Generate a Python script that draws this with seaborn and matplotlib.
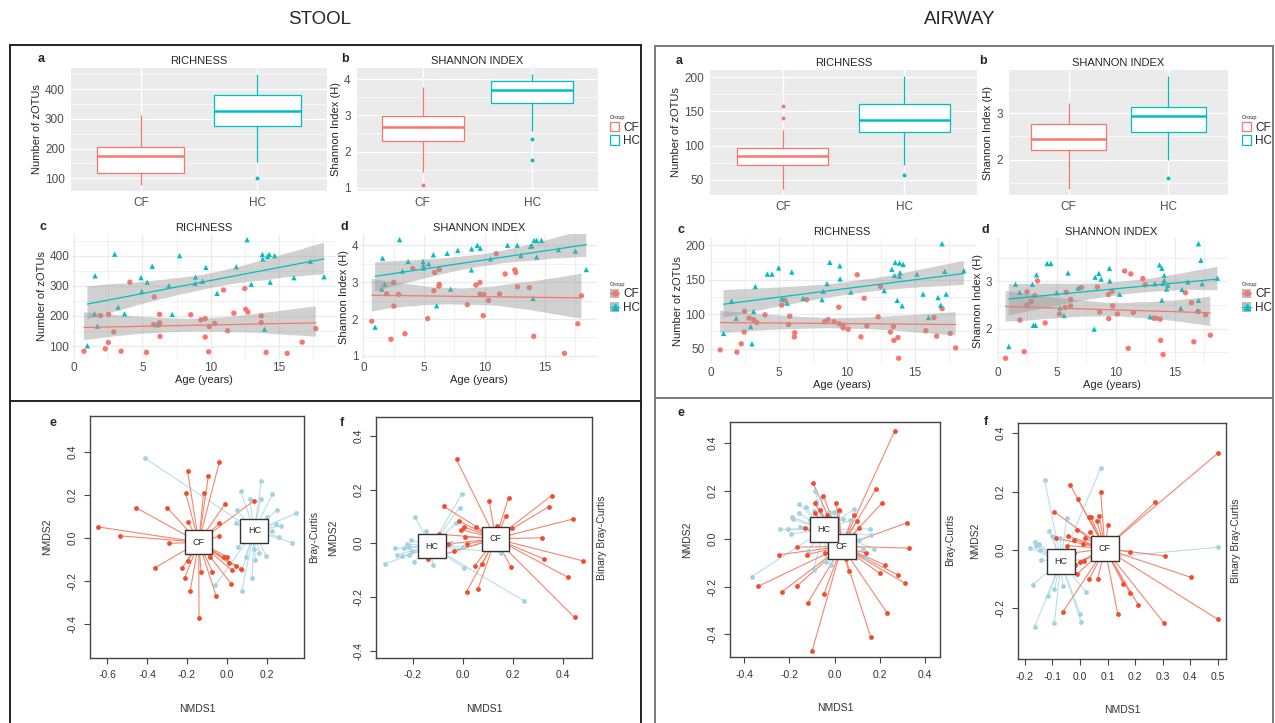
import numpy as np
import pandas as pd
import seaborn as sns
import matplotlib.pyplot as plt
from matplotlib.patches import Patch, Rectangle
from matplotlib.lines import Line2D
from matplotlib.ticker import AutoMinorLocator

W, H = 1275, 723
CF_COL, HC_COL = '#F8766D', '#00BFC4'
CF_PT, CF_LINE = '#F24B2D', '#F4866F'
HC_PT, HC_LINE = '#A3D2E2', '#B8DEEA'

# ---- STOOL: richness / shannon vs age ----
stool_cf_rich_age = [0.72, 1.93, 2.28, 2.5, 2.52, 2.9, 3.44, 4.08, 5.3, 5.87, 5.82, 6.24, 6.26, 6.26, 6.29,
                     8.54, 9.28, 9.6, 9.6, 9.85, 9.9, 10.3, 10.94, 11.24, 11.7, 12.5, 12.57, 12.72, 13.7, 13.7,
                     14.06, 15.6, 16.7, 17.7]
stool_cf_rich = [83, 201, 91, 112, 205, 147, 83, 312, 79, 263, 171, 172, 205, 177, 132,
                 204, 187, 191, 130, 81, 165, 175, 286, 151, 209, 291, 222, 213, 200, 178,
                 79, 76, 113, 158]
stool_hc_rich_age = [0.97, 1.53, 1.49, 1.7, 2.97, 3.22, 3.69, 4.9, 4.95, 5.35, 5.72, 6.09, 6.93, 7.18, 7.72,
                     8.89, 8.86, 9.4, 9.65, 10.47, 11.88, 12.67, 12.97, 13.79, 13.81, 13.94, 14.16, 14.3,
                     14.36, 14.68, 16.1, 17.3, 18.3]
stool_hc_rich = [101, 333, 207, 166, 405, 229, 207, 327, 281, 312, 365, 171, 300, 205, 400,
                 329, 308, 315, 361, 275, 363, 453, 305, 404, 389, 156, 398, 404,
                 312, 400, 327, 381, 330]
stool_cf_shan_age = [0.68, 1.91, 2.27, 2.49, 2.51, 2.9, 3.42, 4.07, 5.3, 5.82, 5.87, 6.26, 6.26, 6.23, 8.58,
                     9.29, 9.62, 9.62, 9.89, 9.95, 10.33, 10.96, 11.24, 11.7, 12.5, 12.57, 12.72, 13.7,
                     14.06, 16.6, 17.7, 18.0]
stool_cf_shan = [1.94, 2.68, 1.45, 2.99, 2.35, 2.67, 1.6, 3.37, 2.01, 2.77, 3.26, 3.34, 2.94, 2.89, 2.39,
                 2.92, 2.99, 2.67, 2.09, 2.66, 2.5, 3.77, 2.68, 3.22, 3.33, 3.26, 2.87, 2.85,
                 1.53, 1.07, 1.87, 2.63]
stool_hc_shan_age = [0.96, 1.5, 1.58, 1.75, 2.98, 3.22, 3.69, 4.92, 4.95, 4.97, 5.38, 5.77, 6.04, 6.91, 7.19,
                     7.79, 8.93, 8.91, 9.4, 9.64, 10.49, 11.9, 12.7, 13.0, 13.8, 13.9, 14.0, 14.1, 14.3,
                     14.3, 14.7, 16.1, 17.5, 18.4]
stool_hc_shan = [1.78, 2.81, 3.65, 2.94, 4.15, 3.3, 3.56, 3.56, 3.46, 3.38, 3.5, 3.74, 2.36, 3.78, 2.81,
                 3.86, 3.9, 3.33, 4.0, 3.92, 3.63, 4.0, 4.0, 3.72, 3.97, 3.99, 2.56, 4.13, 4.13,
                 3.68, 4.13, 3.88, 3.84, 3.34]

# ---- AIRWAY: richness / shannon vs age ----
air_cf_rich_age = [0.66, 1.89, 2.21, 2.43, 2.46, 2.8, 3.12, 3.35, 3.96, 5.19, 5.43, 5.78, 5.7, 6.15, 6.12,
                   7.03, 8.36, 8.6, 9.05, 9.39, 9.42, 9.71, 9.71, 10.08, 10.75, 11.02, 11.26, 11.46, 12.29,
                   12.47, 13.2, 13.42, 13.45, 13.75, 13.8, 15.8, 16.4, 16.6, 17.0, 17.6, 18.0]
air_cf_rich = [48, 45, 57, 74, 104, 94, 92, 88, 99, 113, 120, 97, 85, 73, 67,
               121, 89, 92, 89, 110, 86, 84, 80, 78, 157, 67, 123, 83, 96,
               140, 74, 82, 62, 66, 36, 76, 95, 68, 108, 72, 51]
air_hc_rich_age = [0.91, 1.5, 1.84, 2.9, 3.0, 3.12, 3.25, 4.13, 4.47, 4.97, 5.21, 5.6, 5.93, 6.76, 8.16,
                   8.24, 8.53, 8.73, 9.47, 9.49, 10.28, 12.74, 13.3, 13.55, 13.5, 13.7, 13.87, 13.9, 13.87,
                   14.06, 14.14, 15.15, 15.6, 16.0, 16.7, 16.9, 17.0, 17.2, 17.3, 18.6]
air_hc_rich = [72, 119, 94, 82, 57, 104, 140, 158, 158, 167, 122, 116, 161, 123, 121,
               133, 144, 175, 170, 151, 132, 134, 165, 175, 156, 120, 174, 160, 155,
               112, 172, 158, 129, 95, 124, 113, 202, 162, 129, 163]
air_cf_shan_age = [0.67, 1.89, 2.24, 2.48, 2.48, 2.83, 3.15, 3.37, 4.02, 5.23, 5.71, 5.8, 6.17, 6.17, 7.09,
                   8.44, 8.63, 9.38, 9.4, 9.68, 9.73, 10.13, 10.75, 11.05, 11.27, 11.48, 12.29, 12.48,
                   13.2, 13.42, 13.75, 13.8, 14.0, 15.9, 16.4, 16.6, 17.0, 17.6, 18.0]
air_cf_shan = [1.37, 2.18, 1.51, 2.78, 2.5, 2.57, 2.7, 3.01, 2.12, 2.31, 2.45, 2.77, 2.62, 2.48, 2.87,
               2.88, 2.35, 2.72, 2.21, 2.79, 2.48, 2.31, 3.22, 1.58, 3.16, 2.34, 3.06, 2.93,
               2.22, 2.22, 2.2, 1.75, 1.45, 2.76, 2.55, 1.72, 2.36, 2.29, 1.86]
air_hc_shan_age = [0.94, 1.51, 1.86, 2.94, 3.02, 3.2, 3.29, 4.18, 4.5, 4.99, 5.28, 5.61, 5.96, 6.79, 8.17,
                   8.25, 8.57, 8.76, 9.46, 9.49, 10.32, 12.9, 13.3, 13.7, 13.9, 13.9, 14.0, 14.1, 14.1,
                   14.3, 14.4, 15.5, 15.6, 16.1, 16.9, 17.0, 17.0, 17.2, 17.3, 18.6]
air_hc_shan = [1.62, 2.94, 2.77, 2.94, 2.07, 2.07, 3.14, 3.38, 3.38, 2.76, 2.44, 2.28, 3.18, 2.86, 1.99,
               3.09, 3.17, 3.05, 3.28, 3.01, 2.73, 2.25, 2.95, 3.35, 3.28, 2.6, 2.96, 3.13, 3.02,
               2.84, 2.92, 2.43, 2.83, 2.99, 2.38, 3.8, 2.6, 3.45, 2.95, 3.07]

# ---- NMDS scores ----
stool_bc_cf_x = [-0.645, -0.533, -0.457, -0.30, -0.29, -0.358, -0.197, -0.207, -0.195, -0.223, -0.211, -0.184,
                 -0.195, -0.14, -0.117, -0.093, -0.038, -0.011, -0.038, -0.038, -0.087, -0.13, -0.073, -0.054,
                 0.021, -0.016, 0.0, 0.011, 0.025, 0.044, 0.072, 0.135]
stool_bc_cf_y = [0.05, 0.008, 0.14, 0.14, -0.027, -0.139, 0.31, 0.209, 0.075, -0.139, -0.187, -0.248,
                 -0.108, -0.372, 0.206, 0.287, 0.353, 0.155, 0.066, 0.007, -0.092, -0.158, -0.158, -0.273,
                 -0.214, -0.092, -0.089, -0.12, -0.152, -0.131, -0.148, 0.172]
stool_bc_hc_x = [-0.41, 0.068, 0.172, 0.227, 0.168, 0.113, 0.048, 0.248, 0.347, 0.246, 0.27, 0.227, 0.258,
                 0.327, 0.2, 0.044, 0.054, 0.093, 0.135, 0.141, 0.125, 0.076, 0.196, 0.162, -0.058, 0.074]
stool_bc_hc_y = [0.369, 0.218, 0.265, 0.203, 0.18, 0.181, 0.128, 0.128, 0.113, 0.063, 0.054, 0.03, 0.004,
                 -0.024, 0.097, 0.066, -0.043, -0.089, -0.055, -0.105, -0.187, -0.152, -0.086, -0.071,
                 -0.221, -0.248]
stool_bbc_cf_x = [-0.026, -0.078, -0.016, 0.004, 0.05, 0.105, 0.182, 0.172, 0.354, 0.343, 0.439, 0.314,
                  0.323, 0.478, 0.421, 0.446, 0.193, 0.046, 0.077, 0.014, 0.059, -0.035, -0.061, 0.014,
                  0.009, -0.007, -0.141, -0.097, 0.136, 0.196]
stool_bbc_cf_y = [0.312, 0.138, 0.082, 0.061, 0.061, 0.158, 0.169, 0.102, 0.177, 0.136, 0.09, 0.02,
                  -0.058, -0.065, -0.127, -0.276, -0.09, -0.085, -0.078, -0.18, -0.172, -0.029, -0.003,
                  -0.003, 0.024, 0.051, -0.06, 0.034, 0.066, 0.056]
stool_bbc_hc_x = [-0.004, -0.014, -0.027, -0.193, -0.149, -0.314, -0.272, -0.264, -0.244, -0.223, -0.218,
                  -0.203, -0.197, -0.215, -0.122, -0.048, 0.001, 0.002, 0.152, 0.245, -0.207, -0.236]
stool_bbc_hc_y = [0.185, 0.133, 0.076, 0.098, 0.045, -0.078, -0.019, -0.042, -0.048, -0.003, -0.013,
                  -0.028, -0.069, -0.044, -0.081, 0.002, -0.013, -0.091, -0.035, -0.215, 0.012, -0.016]

air_bc_cf_x = [0.265, -0.096, -0.049, 0.184, 0.21, 0.32, 0.328, -0.088, -0.066, -0.087, -0.034, 0.007,
               0.018, 0.084, 0.099, 0.11, -0.132, -0.166, -0.246, -0.121, -0.337, -0.231, -0.165, -0.119,
               -0.047, -0.099, 0.16, 0.232, 0.313, 0.279, 0.221, 0.199, 0.062, 0.051, -0.04, 0.14]
air_bc_cf_y = [0.45, 0.235, 0.18, 0.21, 0.15, 0.067, -0.039, 0.148, 0.122, 0.108, 0.098, 0.148,
               0.122, 0.1, 0.076, 0.046, 0.046, -0.035, -0.067, -0.066, -0.199, -0.221, -0.197, -0.269,
               -0.232, -0.469, -0.413, -0.31, -0.187, -0.151, -0.109, -0.145, -0.133, -0.084, -0.059, -0.06]
air_bc_hc_x = [-0.365, -0.243, -0.206, -0.191, -0.154, -0.187, -0.184, -0.157, -0.159, -0.128, -0.107,
               -0.093, -0.085, -0.081, -0.071, -0.059, -0.026, -0.004, 0.022, 0.037, 0.087, 0.069, 0.11,
               0.157, 0.162, 0.125, 0.176, -0.093, -0.037, -0.016, 0.007, 0.096, 0.14, -0.118]
air_bc_hc_y = [-0.158, 0.039, 0.042, 0.021, 0.049, 0.091, 0.081, 0.147, 0.108, 0.133, 0.077,
               0.116, 0.201, 0.154, 0.084, 0.172, 0.113, 0.113, 0.116, 0.083, 0.124, 0.077, -0.007,
               0.041, 0.014, -0.042, -0.043, -0.13, -0.098, -0.108, -0.077, -0.081, -0.08, -0.052]
air_bbc_cf_x = [0.5, 0.273, 0.075, -0.035, -0.008, -0.093, 0.031, 0.039, 0.061, 0.07, 0.102, -0.01, 0.037,
                -0.045, -0.087, 0.02, -0.02, 0.182, 0.31, 0.402, 0.5, 0.305, 0.212, 0.182, 0.157, 0.137,
                0.064, 0.034, -0.01, -0.017, -0.001, 0.013, -0.063, -0.047, -0.02, 0.01]
air_bbc_cf_y = [0.331, 0.163, 0.198, 0.222, 0.176, 0.13, 0.114, 0.114, 0.1, 0.117, 0.086, 0.069, 0.061,
                0.048, 0.04, 0.04, 0.034, -0.006, -0.021, -0.094, -0.238, -0.251, -0.189, -0.149, -0.116,
                -0.219, -0.1, -0.1, -0.082, -0.051, -0.04, -0.037, -0.214, 0.015, -0.01, 0.02]
air_bbc_hc_x = [0.075, -0.128, 0.5, -0.048, -0.111, -0.18, -0.163, -0.158, -0.149, -0.146, -0.143, -0.172,
                -0.116, -0.093, -0.09, -0.063, -0.165, -0.093, 0.0, 0.004, 0.023, -0.101, -0.071]
air_bbc_hc_y = [0.28, 0.239, 0.009, 0.111, 0.066, 0.006, 0.028, 0.014, 0.02, 0.0, -0.034, -0.119,
                -0.158, -0.134, -0.08, -0.123, -0.265, -0.251, -0.219, -0.247, -0.146, 0.046, 0.04]

sns.set_style('white')
plt.rcParams['font.family'] = ['Liberation Sans', 'DejaVu Sans']
plt.rcParams['axes.unicode_minus'] = False

fig = plt.figure(figsize=(W / 100, H / 100), dpi=100)


def rect(x0, y0, x1, y1):
    return [x0 / W, 1 - y1 / H, (x1 - x0) / W, (y1 - y0) / H]


def expand(vals, frac=0.05):
    lo, hi = min(vals), max(vals)
    pad = (hi - lo) * frac
    return lo - pad, hi + pad


def gg_theme(ax, grey):
    ax.set_facecolor('#EBEBEB' if grey else 'white')
    gc = 'white' if grey else '#EBEBEB'
    ax.grid(True, which='major', color=gc, lw=1.0)
    ax.grid(True, which='minor', color=gc, lw=0.5)
    ax.set_axisbelow(True)
    for s in ax.spines.values():
        s.set_visible(False)
    ax.tick_params(which='major', length=2.5 if grey else 0, color='#333333', labelcolor='#4D4D4D',
                   labelsize=8.5, pad=2)
    ax.tick_params(which='minor', length=0)


def box_panel(ax, cf, hc, ylabel, yticks, title):
    df = pd.DataFrame({'Group': ['CF'] * len(cf) + ['HC'] * len(hc), 'value': cf + hc})
    for grp, col in [('CF', CF_COL), ('HC', HC_COL)]:
        sns.boxplot(data=df[df['Group'] == grp], x='Group', y='value', order=['CF', 'HC'],
                    color='white', linecolor=col, linewidth=0.9, width=0.75, showcaps=False,
                    flierprops=dict(marker='o', markersize=1.8, markerfacecolor=col, markeredgecolor=col),
                    medianprops=dict(linewidth=1.8, color=col), ax=ax)
    gg_theme(ax, True)
    ax.set_xlim(-0.6, 1.6)
    ax.set_ylim(*expand(cf + hc))
    ax.set_yticks(yticks)
    ax.yaxis.set_minor_locator(AutoMinorLocator(2))
    ax.set_xlabel('')
    ax.set_ylabel(ylabel, fontsize=8, labelpad=2)
    ax.set_title(title, fontsize=8, pad=3)


def trend_panel(ax, cf_age, cf_val, hc_age, hc_val, ylabel, yticks, title):
    df = pd.DataFrame({'Age': cf_age + hc_age, 'value': cf_val + hc_val,
                       'Group': ['CF'] * len(cf_age) + ['HC'] * len(hc_age)})
    sns.scatterplot(data=df, x='Age', y='value', hue='Group', style='Group',
                    markers={'CF': 'o', 'HC': '^'}, palette={'CF': CF_COL, 'HC': HC_COL},
                    s=15, linewidth=0, legend=False, ax=ax)
    for grp, col in [('CF', CF_COL), ('HC', HC_COL)]:
        n = len(ax.collections)
        sns.regplot(data=df[df['Group'] == grp], x='Age', y='value', scatter=False, color=col,
                    ci=95, seed=3, line_kws=dict(lw=0.9), ax=ax)
        for coll in ax.collections[n:]:
            coll.set_facecolor('#999999')
            coll.set_edgecolor('none')
            coll.set_alpha(0.45)
    gg_theme(ax, False)
    ax.set_xlim(*expand(cf_age + hc_age))
    ax.set_ylim(*expand(cf_val + hc_val))
    ax.set_xticks([0, 5, 10, 15])
    ax.set_yticks(yticks)
    ax.xaxis.set_minor_locator(AutoMinorLocator(2))
    ax.yaxis.set_minor_locator(AutoMinorLocator(2))
    ax.set_xlabel('Age (years)', fontsize=8, labelpad=1)
    ax.set_ylabel(ylabel, fontsize=8, labelpad=2)
    ax.set_title(title, fontsize=8, pad=2)


def spider_panel(ax, cf_x, cf_y, hc_x, hc_y, xlim, ylim, xticks, yticks, side):
    groups = [('HC', hc_x, hc_y, HC_LINE, HC_PT), ('CF', cf_x, cf_y, CF_LINE, CF_PT)]
    cents = {}
    for grp, xs, ys, lc, pc in groups:
        cx, cy = np.mean(xs), np.mean(ys)
        cents[grp] = (cx, cy)
        for x, y in zip(xs, ys):
            ax.plot([cx, x], [cy, y], color=lc, lw=0.8, zorder=1)
    for grp, xs, ys, lc, pc in groups:
        sns.scatterplot(x=xs, y=ys, color=pc, s=12, linewidth=0, ax=ax, zorder=3)
    for grp in ['CF', 'HC']:
        ax.text(cents[grp][0], cents[grp][1], grp, ha='center', va='center', fontsize=6.5, zorder=5,
                bbox=dict(boxstyle='square,pad=0.85', fc='white', ec='#333333', lw=1.0))
    ax.set_facecolor('white')
    ax.set_xlim(*xlim)
    ax.set_ylim(*ylim)
    ax.set_xticks(xticks)
    ax.set_yticks(yticks)
    ax.set_xticklabels(['%.1f' % v for v in xticks])
    ax.set_yticklabels(['%.1f' % v for v in yticks], rotation=90, va='center')
    for s in ax.spines.values():
        s.set_visible(True)
        s.set_color('#444444')
        s.set_linewidth(1.0)
    ax.tick_params(direction='out', length=4, width=0.8, color='#444444', labelcolor='#333333',
                   labelsize=7.5, pad=5, bottom=True, left=True)
    ax.grid(False)
    ax.set_xlabel('NMDS1', fontsize=7.5, labelpad=17, color='#333333')
    ax.set_ylabel('NMDS2', fontsize=7.5, labelpad=11, color='#333333')
    ax.text(1.025, 0.5, side, transform=ax.transAxes, rotation=90, ha='left', va='center',
            fontsize=7.5, color='#333333')


# ---- STOOL ----
ax = fig.add_axes(rect(71, 68, 327, 191))
box_panel(ax, stool_cf_rich, stool_hc_rich, 'Number of zOTUs', [100, 200, 300, 400], 'RICHNESS')
ax = fig.add_axes(rect(357, 68, 598, 191))
box_panel(ax, stool_cf_shan, stool_hc_shan, 'Shannon Index (H)', [1, 2, 3, 4], 'SHANNON INDEX')
ax = fig.add_axes(rect(72, 234, 336, 359))
trend_panel(ax, stool_cf_rich_age, stool_cf_rich, stool_hc_rich_age, stool_hc_rich,
            'Number of zOTUs', [100, 200, 300, 400], 'RICHNESS')
ax = fig.add_axes(rect(361, 234, 597, 359))
trend_panel(ax, stool_cf_shan_age, stool_cf_shan, stool_hc_shan_age, stool_hc_shan,
            'Shannon Index (H)', [1, 2, 3, 4], 'SHANNON INDEX')
ax = fig.add_axes(rect(90, 416, 304, 658))
spider_panel(ax, stool_bc_cf_x, stool_bc_cf_y, stool_bc_hc_x, stool_bc_hc_y, (-0.685, 0.385), (-0.56, 0.566),
             [-0.6, -0.4, -0.2, 0.0, 0.2], [-0.4, -0.2, 0.0, 0.2, 0.4], 'Bray-Curtis')
ax = fig.add_axes(rect(376, 417, 592, 658))
spider_panel(ax, stool_bbc_cf_x, stool_bbc_cf_y, stool_bbc_hc_x, stool_bbc_hc_y, (-0.348, 0.516), (-0.427, 0.47),
             [-0.2, 0.0, 0.2, 0.4], [-0.4, -0.2, 0.0, 0.2, 0.4], 'Binary Bray-Curtis')

# ---- AIRWAY ----
ax = fig.add_axes(rect(710, 70, 977, 195))
box_panel(ax, air_cf_rich, air_hc_rich, 'Number of zOTUs', [50, 100, 150, 200], 'RICHNESS')
ax = fig.add_axes(rect(1009, 70, 1228, 195))
box_panel(ax, air_cf_shan, air_hc_shan, 'Shannon Index (H)', [2, 3], 'SHANNON INDEX')
ax = fig.add_axes(rect(708, 238, 976, 364))
trend_panel(ax, air_cf_rich_age, air_cf_rich, air_hc_rich_age, air_hc_rich,
            'Number of zOTUs', [50, 100, 150, 200], 'RICHNESS')
ax = fig.add_axes(rect(995, 238, 1228, 364))
trend_panel(ax, air_cf_shan_age, air_cf_shan, air_hc_shan_age, air_hc_shan,
            'Shannon Index (H)', [2, 3], 'SHANNON INDEX')
ax = fig.add_axes(rect(730, 422, 940, 657))
spider_panel(ax, air_bc_cf_x, air_bc_cf_y, air_bc_hc_x, air_bc_hc_y, (-0.462, 0.466), (-0.495, 0.489),
             [-0.4, -0.2, 0.0, 0.2, 0.4], [-0.4, -0.2, 0.0, 0.2, 0.4], 'Bray-Curtis')
ax = fig.add_axes(rect(1018, 423, 1226, 659))
spider_panel(ax, air_bbc_cf_x, air_bbc_cf_y, air_bbc_hc_x, air_bbc_hc_y, (-0.225, 0.53), (-0.374, 0.435),
             [-0.2, -0.1, 0.0, 0.1, 0.2, 0.3, 0.4, 0.5], [-0.2, 0.0, 0.2, 0.4], 'Binary Bray-Curtis')

# ---- legends ----
box_handles = [Patch(facecolor='white', edgecolor=CF_COL, lw=0.9), Patch(facecolor='white', edgecolor=HC_COL, lw=0.9)]
pt_handles = [(Patch(facecolor='#BDBDBD', edgecolor='none'),
               Line2D([0], [0], color=CF_COL, lw=0.9, marker='o', markersize=3.5)),
              (Patch(facecolor='#BDBDBD', edgecolor='none'),
               Line2D([0], [0], color=HC_COL, lw=0.9, marker='^', markersize=3.8))]
for x0 in [604, 1236]:
    for handles, yc in [(box_handles, 131), (pt_handles, 298)]:
        fig.legend(handles, ['CF', 'HC'], title='Group', loc='center left',
                   bbox_to_anchor=(x0 / W, 1 - yc / H), frameon=False, fontsize=8.5, title_fontsize=4,
                   handlelength=0.8, handleheight=0.9, handletextpad=0.3, labelspacing=0.15,
                   borderpad=0, alignment='left')

# ---- frame, headings, panel letters ----
fig.add_artist(Rectangle((10 / W, -0.01), 631 / W, 1.01 - 45 / H, transform=fig.transFigure,
                         fill=False, ec='#222222', lw=1.4))
fig.add_artist(Line2D([10 / W, 641 / W], [1 - 401 / H] * 2, transform=fig.transFigure, color='#222222', lw=1.4))
fig.add_artist(Rectangle((655 / W, -0.01), 618 / W, 1.01 - 46 / H, transform=fig.transFigure,
                         fill=False, ec='#7A7A7A', lw=1.4))
fig.add_artist(Line2D([655 / W, 1273 / W], [1 - 398 / H] * 2, transform=fig.transFigure, color='#7A7A7A', lw=1.4))

fig.text(320 / W, 1 - 20 / H, 'STOOL', fontsize=13.5, ha='center', va='center')
fig.text(960 / W, 1 - 20 / H, 'AIRWAY', fontsize=13.5, ha='center', va='center')

letters = [('a', 41, 59), ('b', 345, 59), ('c', 43, 227), ('d', 344, 227), ('e', 53, 423), ('f', 342, 423),
           ('a', 679, 61), ('b', 983, 61), ('c', 681, 230), ('d', 985, 230), ('e', 681, 413), ('f', 986, 422)]
for lab, x, y in letters:
    fig.text(x / W, 1 - y / H, lab, fontsize=9, fontweight='bold', ha='center', va='center')

fig.savefig('out.png', dpi=100)
